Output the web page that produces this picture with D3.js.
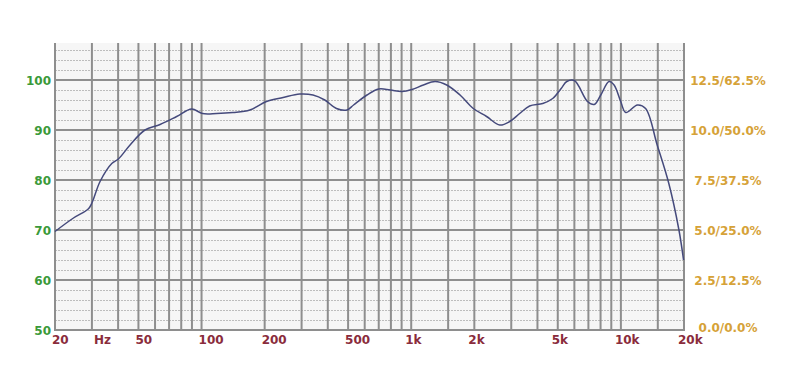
<!DOCTYPE html>
<html>
<head>
<meta charset="utf-8">
<script src="https://cdn.jsdelivr.net/npm/d3@7"></script>
<style>
	body { margin: 0; background: #fff; }
	svg text { font-family: "DejaVu Sans", Verdana, sans-serif; font-weight: bold; font-size: 12px; }
</style>
</head>
<body>
<div class="chart"></div>
<script>
// DATA
var freqs = [20, 24.5, 28.8, 30, 32.8, 37.3, 40.1, 45.6, 53.7, 63.4, 76.1, 89.7, 101, 118, 141, 170,
	204, 245, 294, 340, 387, 440, 494, 531, 615, 700, 795, 903, 1008, 1143, 1300, 1477, 1709,
	1977, 2288, 2646, 2950, 3290, 3670, 4240, 4730, 5190, 5520, 6000, 6930, 7460, 8020, 8780,
	9280, 9980, 10550, 11990, 13120, 14900, 16930, 18920, 19900];
var spl = [69.7, 72.4, 74.2, 75.4, 79.7, 83.3, 84.2, 87, 90, 91.1, 92.7, 94.2, 93.3, 93.3, 93.5, 94,
	95.7, 96.5, 97.2, 97, 96, 94.3, 94, 95, 97, 98.2, 98, 97.7, 98.1, 99, 99.7, 99, 97,
	94.3, 92.7, 91, 91.7, 93.3, 94.8, 95.3, 96.3, 98.3, 99.7, 99.9, 95.7, 95.1, 97, 99.7,
	99, 95.7, 93.5, 95, 94.3, 87, 79.3, 70, 64];

var gridFreqs = [20, 30, 40, 50, 60, 70, 80, 90, 100, 200, 300, 400, 500, 600, 700, 800, 900, 1000,
	1500, 2000, 3000, 4000, 5000, 6000, 7000, 8000, 9000, 10000, 15000, 20000];
var xLabelFreqs = [20, 30, 50, 100, 200, 500, 1000, 2000, 5000, 10000, 20000];
var xLabels = ["20", "Hz", "50", "100", "200", "500", "1k", "2k", "5k", "10k", "20k"];
var yTicks = [50, 60, 70, 80, 90, 100];
var rightLabels = ["0.0/0.0%", "2.5/12.5%", "5.0/25.0%", "7.5/37.5%", "10.0/50.0%", "12.5/62.5%"];

// LAYOUT
var width = 800, height = 390;
var plot = { left: 55, right: 684, top: 43, bottom: 330 };

var svg = d3.select(".chart")
	.append("svg")
	.attr("width", width)
	.attr("height", height);

var x = d3.scaleLog()
	.domain([20, 20000])
	.range([plot.left, plot.right]);

var y = d3.scaleLinear()
	.domain([50, 107.4])
	.range([plot.bottom, plot.top]);

// plot background
svg.append("rect")
	.attr("x", plot.left)
	.attr("y", plot.top)
	.attr("width", plot.right - plot.left)
	.attr("height", plot.bottom - plot.top)
	.attr("fill", "#f6f6f6");

// minor dotted rows every 2 dB
var minor = d3.range(52, 107, 2).filter(function(d) { return d % 10 != 0; });
svg.append("g")
	.selectAll("line")
	.data(minor)
	.enter().append("line")
		.attr("x1", plot.left)
		.attr("x2", plot.right)
		.attr("y1", function(d) { return y(d) + 0.5; })
		.attr("y2", function(d) { return y(d) + 0.5; })
		.attr("stroke", "#bdbdbd")
		.attr("stroke-width", 1)
		.attr("stroke-dasharray", "2,1");

// major rows every 10 dB
svg.append("g")
	.selectAll("line")
	.data(yTicks)
	.enter().append("line")
		.attr("x1", plot.left)
		.attr("x2", plot.right)
		.attr("y1", function(d) { return y(d); })
		.attr("y2", function(d) { return y(d); })
		.attr("stroke", "#8e8e8e")
		.attr("stroke-width", 2);

// vertical frequency lines
svg.append("g")
	.selectAll("line")
	.data(gridFreqs)
	.enter().append("line")
		.attr("x1", function(d) { return x(d); })
		.attr("x2", function(d) { return x(d); })
		.attr("y1", plot.top)
		.attr("y2", plot.bottom + 1)
		.attr("stroke", "#8e8e8e")
		.attr("stroke-width", 2);

// response curve
var line = d3.line()
	.x(function(d) { return x(d[0]); })
	.y(function(d) { return y(d[1]); })
	.curve(d3.curveCatmullRom.alpha(0.5));

svg.append("path")
	.datum(d3.zip(freqs, spl))
	.attr("d", line)
	.attr("fill", "none")
	.attr("stroke", "#454a7c")
	.attr("stroke-width", 1.5);

// left dB labels
svg.append("g")
	.selectAll("text")
	.data(yTicks)
	.enter().append("text")
		.attr("x", plot.left - 4)
		.attr("y", function(d) { return y(d); })
		.attr("dy", "0.38em")
		.attr("text-anchor", "end")
		.attr("fill", "#3a9a3a")
		.text(function(d) { return d; });

// right THD labels
svg.append("g")
	.selectAll("text")
	.data(yTicks)
	.enter().append("text")
		.attr("x", 728)
		.attr("y", function(d, i) { return y(d) + (i == 0 ? -3 : 0); })
		.attr("dy", "0.38em")
		.attr("text-anchor", "middle")
		.attr("fill", "#d6a238")
		.text(function(d, i) { return rightLabels[i]; });

// bottom frequency labels
svg.append("g")
	.selectAll("text")
	.data(xLabelFreqs)
	.enter().append("text")
		.attr("x", function(d, i) {
			var lbl = xLabels[i];
			if (lbl == "Hz") return x(d) + 2;
			if (lbl.indexOf("k") >= 0) return x(d) - 6;
			return x(d) - 3;
		})
		.attr("y", 344)
		.attr("text-anchor", "start")
		.attr("fill", "#8a2c3c")
		.text(function(d, i) { return xLabels[i]; });
</script>
</body>
</html>
